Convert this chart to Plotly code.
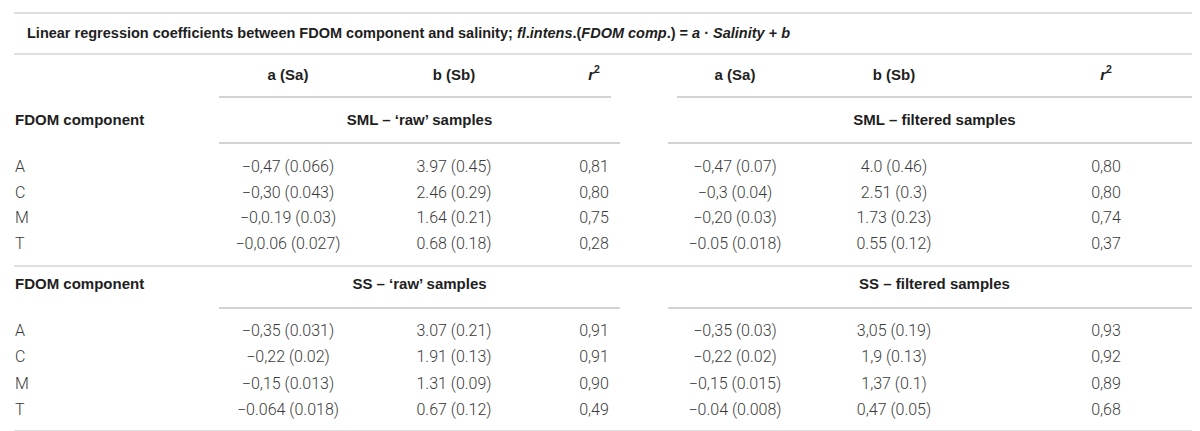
import plotly.graph_objects as go

# table content
components = ["A", "C", "M", "T"]
col_headers = ["a (Sa)", "b (Sb)", "<i>r</i><sup>2</sup>"]
group_labels = ["SML – ‘raw’ samples", "SML – filtered samples",
                "SS – ‘raw’ samples", "SS – filtered samples"]
row_header = "FDOM component"

sml_raw_a = ["−0,47 (0.066)", "−0,30 (0.043)", "−0,0.19 (0.03)", "−0,0.06 (0.027)"]
sml_raw_b = ["3.97 (0.45)", "2.46 (0.29)", "1.64 (0.21)", "0.68 (0.18)"]
sml_raw_r2 = ["0,81", "0,80", "0,75", "0,28"]
sml_filt_a = ["−0,47 (0.07)", "−0,3 (0.04)", "−0,20 (0.03)", "−0.05 (0.018)"]
sml_filt_b = ["4.0 (0.46)", "2.51 (0.3)", "1.73 (0.23)", "0.55 (0.12)"]
sml_filt_r2 = ["0,80", "0,80", "0,74", "0,37"]

ss_raw_a = ["−0,35 (0.031)", "−0,22 (0.02)", "−0,15 (0.013)", "−0.064 (0.018)"]
ss_raw_b = ["3.07 (0.21)", "1.91 (0.13)", "1.31 (0.09)", "0.67 (0.12)"]
ss_raw_r2 = ["0,91", "0,91", "0,90", "0,49"]
ss_filt_a = ["−0,35 (0.03)", "−0,22 (0.02)", "−0,15 (0.015)", "−0.04 (0.008)"]
ss_filt_b = ["3,05 (0.19)", "1,9 (0.13)", "1,37 (0.1)", "0,47 (0.05)"]
ss_filt_r2 = ["0,93", "0,92", "0,89", "0,68"]

title = ("<b>Linear regression coefficients between FDOM component and salinity; "
         "<i>fl</i>.<i>intens</i>.(<i>FDOM comp</i>.) = <i>a</i> · <i>Salinity</i> + <i>b</i></b>")

# layout (pixel-like coordinates of the blank axes)
W, H = 1200, 431
label_x = 7
title_x = 19
col_x = [280, 446, 586, 727, 886, 1098]
head_spans = [(211, 603), (669, 1193)]
group_spans = [(211, 612), (660, 1193)]
y_title = 26
y_header = 68
y_group = [113, 277]
y_rows = [[160, 186, 211, 237], [324, 350, 377, 403]]
full_lines = [5, 46, 258, 423]
head_line = 89
group_lines = [135, 300]

TXT = "#1e1e1e"
DATA = "#3a3a3a"
BOLD_FONT = "Liberation Sans"
LIGHT_FONT = "Roboto"

fig = go.Figure()

# title
fig.add_trace(go.Scatter(x=[title_x], y=[y_title], mode="text", text=[title],
                         textposition="middle right",
                         textfont=dict(family=BOLD_FONT, size=14.5, color=TXT)))

# column headers
fig.add_trace(go.Scatter(x=col_x, y=[y_header] * 6, mode="text",
                         text=["<b>" + h + "</b>" for h in col_headers * 2],
                         textposition="middle center",
                         textfont=dict(family=BOLD_FONT, size=15, color=TXT)))

sections = [
    (group_labels[0], group_labels[1],
     [sml_raw_a, sml_raw_b, sml_raw_r2, sml_filt_a, sml_filt_b, sml_filt_r2]),
    (group_labels[2], group_labels[3],
     [ss_raw_a, ss_raw_b, ss_raw_r2, ss_filt_a, ss_filt_b, ss_filt_r2]),
]

for i, (gl, gr, cols) in enumerate(sections):
    yg = y_group[i]
    fig.add_trace(go.Scatter(x=[label_x], y=[yg], mode="text", text=["<b>" + row_header + "</b>"],
                             textposition="middle right",
                             textfont=dict(family=BOLD_FONT, size=15, color=TXT)))
    fig.add_trace(go.Scatter(x=[sum(s) / 2 for s in group_spans], y=[yg, yg], mode="text",
                             text=["<b>" + gl + "</b>", "<b>" + gr + "</b>"],
                             textposition="middle center",
                             textfont=dict(family=BOLD_FONT, size=15, color=TXT)))
    ys = y_rows[i]
    fig.add_trace(go.Scatter(x=[label_x] * len(components), y=ys, mode="text", text=components,
                             textposition="middle right",
                             textfont=dict(family=LIGHT_FONT, size=16, color=DATA, weight=300)))
    for cx, vals in zip(col_x, cols):
        fig.add_trace(go.Scatter(x=[cx] * len(vals), y=ys, mode="text", text=vals,
                                 textposition="middle center",
                                 textfont=dict(family=LIGHT_FONT, size=16, color=DATA, weight=300)))

# rules
for y in full_lines:
    fig.add_shape(type="line", x0=6, x1=W - 6, y0=y, y1=y, xref="x", yref="y",
                  line=dict(color="#d4d4d4", width=1.5))
for x0, x1 in head_spans:
    fig.add_shape(type="line", x0=x0, x1=x1, y0=head_line, y1=head_line, xref="x", yref="y",
                  line=dict(color="#a8a8a8", width=1.2))
for y in group_lines:
    for x0, x1 in group_spans:
        fig.add_shape(type="line", x0=x0, x1=x1, y0=y, y1=y, xref="x", yref="y",
                      line=dict(color="#a8a8a8", width=1.2))

fig.update_layout(
    width=W, height=H,
    margin=dict(l=0, r=0, t=0, b=0),
    paper_bgcolor="white", plot_bgcolor="white",
    showlegend=False,
    xaxis=dict(range=[0, W], visible=False, fixedrange=True),
    yaxis=dict(range=[H, 0], visible=False, fixedrange=True),
)

fig.write_html("out.html")
